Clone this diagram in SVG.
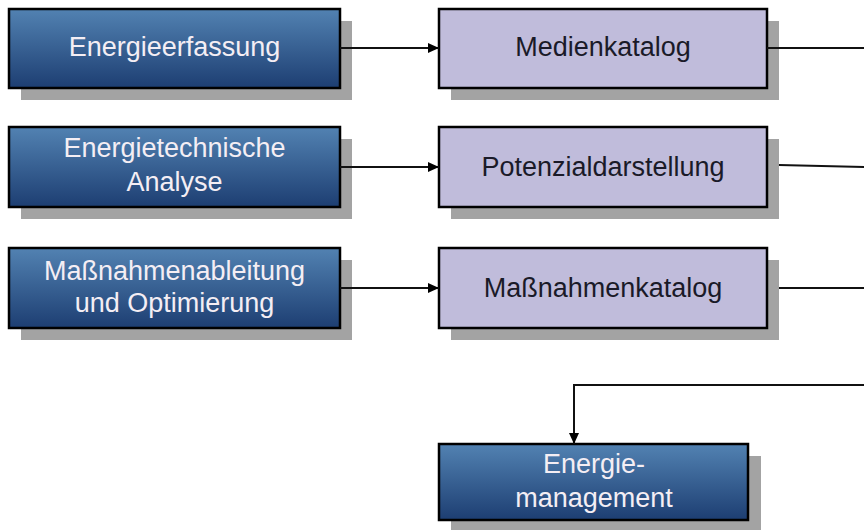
<svg xmlns="http://www.w3.org/2000/svg" width="864" height="530" viewBox="0 0 864 530">
<defs>
<linearGradient id="blue" x1="0" y1="0" x2="0" y2="1">
<stop offset="0" stop-color="#5282b2"/>
<stop offset="1" stop-color="#1d3e72"/>
</linearGradient>
<marker id="arr" markerWidth="12" markerHeight="10" refX="11" refY="5" orient="auto" markerUnits="userSpaceOnUse">
<path d="M0,0 L11,5 L0,10 Z" fill="#000"/>
</marker>
<style>
.shadow{fill:#a3a3a3}
.bluebox{fill:url(#blue);stroke:#000;stroke-width:2.5}
.lavbox{fill:#c0bcdb;stroke:#000;stroke-width:2.5}
.wt{font-family:"Liberation Sans",Arial,sans-serif;font-size:27px;fill:#f4eef4;text-anchor:middle}
.dt{font-family:"Liberation Sans",Arial,sans-serif;font-size:27px;fill:#1a1a28;text-anchor:middle}
.conn{fill:none;stroke:#111;stroke-width:2}
</style>
</defs>
<rect width="864" height="530" fill="#fff"/>
<g id="energieerfassung">
<rect class="shadow" x="21" y="21" width="331" height="79"/>
<rect class="bluebox" x="9" y="9" width="331" height="79"/>
<text class="wt" x="174.5" y="56">Energieerfassung</text>
</g>
<g id="energietechnische-analyse">
<rect class="shadow" x="21" y="139" width="331" height="80"/>
<rect class="bluebox" x="9" y="127" width="331" height="80"/>
<text class="wt" x="174.5" y="157">Energietechnische</text>
<text class="wt" x="174.5" y="191">Analyse</text>
</g>
<g id="massnahmenableitung">
<rect class="shadow" x="21" y="260" width="331" height="80"/>
<rect class="bluebox" x="9" y="248" width="331" height="80"/>
<text class="wt" x="174.5" y="280">Maßnahmenableitung</text>
<text class="wt" x="174.5" y="312">und Optimierung</text>
</g>
<g id="medienkatalog">
<rect class="shadow" x="451" y="21" width="328" height="79"/>
<rect class="lavbox" x="439" y="9" width="328" height="79"/>
<text class="dt" x="603" y="56">Medienkatalog</text>
</g>
<g id="potenzialdarstellung">
<rect class="shadow" x="451" y="139" width="328" height="80"/>
<rect class="lavbox" x="439" y="127" width="328" height="80"/>
<text class="dt" x="603" y="176">Potenzialdarstellung</text>
</g>
<g id="massnahmenkatalog">
<rect class="shadow" x="451" y="260" width="328" height="80"/>
<rect class="lavbox" x="439" y="248" width="328" height="80"/>
<text class="dt" x="603" y="297">Maßnahmenkatalog</text>
</g>
<g id="energiemanagement">
<rect class="shadow" x="451" y="456" width="310" height="80"/>
<rect class="bluebox" x="439" y="444" width="309" height="76"/>
<text class="wt" x="594" y="473">Energie-</text>
<text class="wt" x="594" y="507">management</text>
</g>
<g id="connectors">
<path class="conn" d="M340,48 H439" marker-end="url(#arr)"/>
<path class="conn" d="M340,167 H439" marker-end="url(#arr)"/>
<path class="conn" d="M340,288 H439" marker-end="url(#arr)"/>
<path class="conn" d="M767,48 H864"/>
<path class="conn" d="M779,165 L864,167"/>
<path class="conn" d="M779,288 H864"/>
<path class="conn" d="M864,385 H574 V444" marker-end="url(#arr)"/>
</g>
</svg>
